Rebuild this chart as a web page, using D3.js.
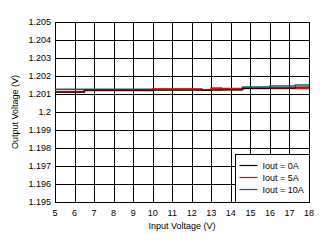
<!DOCTYPE html>
<html lang="en">
<head>
  <meta charset="UTF-8">
  <title>Output Voltage vs Input Voltage</title>
  <script src="https://d3js.org/d3.v7.min.js"></script>
  <style>
    body {
      margin: 0;
      background: #fff;
    }
    svg {
      display: block;
      font-family: "Liberation Sans", Arial, sans-serif;
    }
    .grid line {
      stroke: #000;
      stroke-width: 1;
    }
    .tick-label {
      font-size: 9px;
      fill: #000;
    }
    .axis-title {
      font-size: 9px;
      fill: #000;
    }
    .series {
      fill: none;
    }
  </style>
</head>
<body>
  <svg width="329" height="243"></svg>

  <script>
    // Data (step-wise quantized readings)
    const xTicks = [5, 6, 7, 8, 9, 10, 11, 12, 13, 14, 15, 16, 17, 18];
    const yTicks = [1.195, 1.196, 1.197, 1.198, 1.199, 1.2, 1.201, 1.202, 1.203, 1.204, 1.205];

    const vin0A  = [5, 6.5, 13, 14.6, 16, 17.3, 18];
    const vout0A = [1.2011, 1.20121, 1.20122, 1.20131, 1.20133, 1.20139, 1.20139];

    const vin5A  = [5, 6.5, 10, 12.5, 13, 13.5, 14.6, 18];
    const vout5A = [1.20113, 1.20121, 1.20126, 1.20122, 1.20132, 1.20126, 1.20132, 1.20132];

    const vin10A  = [5, 12.5, 13.5, 14.6, 16, 17.3, 18];
    const vout10A = [1.20126, 1.20122, 1.20131, 1.20139, 1.20144, 1.2015, 1.2015];

    const seriesNames = ["Iout = 0A", "Iout = 5A", "Iout = 10A"];

    const svg = d3.select("svg");
    const margin = { left: 55, top: 22, right: 20, bottom: 41 };
    const width = 329 - margin.left - margin.right;
    const height = 243 - margin.top - margin.bottom;

    const x = d3.scaleLinear().domain([5, 18]).range([margin.left, margin.left + width]);
    const y = d3.scaleLinear().domain([1.195, 1.205]).range([margin.top + height, margin.top]);

    // grid
    const grid = svg.append("g").attr("class", "grid");
    grid.selectAll(".vx")
      .data(xTicks)
      .join("line")
      .attr("x1", d => Math.round(x(d)) + 0.5)
      .attr("x2", d => Math.round(x(d)) + 0.5)
      .attr("y1", y(1.205))
      .attr("y2", y(1.195));
    grid.selectAll(".hy")
      .data(yTicks)
      .join("line")
      .attr("x1", x(5))
      .attr("x2", x(18))
      .attr("y1", d => Math.round(y(d)) + 0.5)
      .attr("y2", d => Math.round(y(d)) + 0.5);

    // tick labels
    svg.append("g").selectAll("text")
      .data(yTicks)
      .join("text")
      .attr("class", "tick-label")
      .attr("x", margin.left - 4)
      .attr("y", d => y(d) + 3)
      .attr("text-anchor", "end")
      .text(d => d3.format("")(d));

    svg.append("g").selectAll("text")
      .data(xTicks)
      .join("text")
      .attr("class", "tick-label")
      .attr("x", d => x(d))
      .attr("y", margin.top + height + 14)
      .attr("text-anchor", "middle")
      .text(d => d);

    // axis titles
    svg.append("text")
      .attr("class", "axis-title")
      .attr("x", x(11.5))
      .attr("y", 229)
      .attr("text-anchor", "middle")
      .text("Input Voltage (V)");

    svg.append("text")
      .attr("class", "axis-title")
      .attr("transform", `translate(18,${y(1.2)}) rotate(-90)`)
      .attr("text-anchor", "middle")
      .text("Output Voltage (V)");

    // series
    const series = [
      { xs: vin10A, ys: vout10A, color: "#155e70", w: 1.5 },
      { xs: vin5A, ys: vout5A, color: "#ff0000", w: 2 },
      { xs: vin0A, ys: vout0A, color: "#000000", w: 1 }
    ];
    const line = d3.line()
      .x(d => x(d[0]))
      .y(d => y(d[1]))
      .curve(d3.curveStepAfter);

    svg.append("g").selectAll("path")
      .data(series)
      .join("path")
      .attr("class", "series")
      .attr("stroke", d => d.color)
      .attr("stroke-width", d => d.w)
      .attr("d", d => line(d3.zip(d.xs, d.ys)));

    // legend
    const legendColors = ["#000000", "#ff0000", "#155e70"];
    const lg = svg.append("g").attr("transform", "translate(235.5,154.5)");
    lg.append("rect")
      .attr("width", 74)
      .attr("height", 48)
      .attr("fill", "#fff")
      .attr("stroke", "#000");
    const items = lg.selectAll("g")
      .data(seriesNames)
      .join("g")
      .attr("transform", (d, i) => `translate(0,${11 + i * 12})`);
    items.append("line")
      .attr("x1", 4)
      .attr("x2", 22)
      .attr("stroke", (d, i) => legendColors[i])
      .attr("stroke-width", 1.2);
    items.append("text")
      .attr("class", "tick-label")
      .attr("x", 27)
      .attr("y", 3)
      .text(d => d);
  </script>
</body>
</html>
